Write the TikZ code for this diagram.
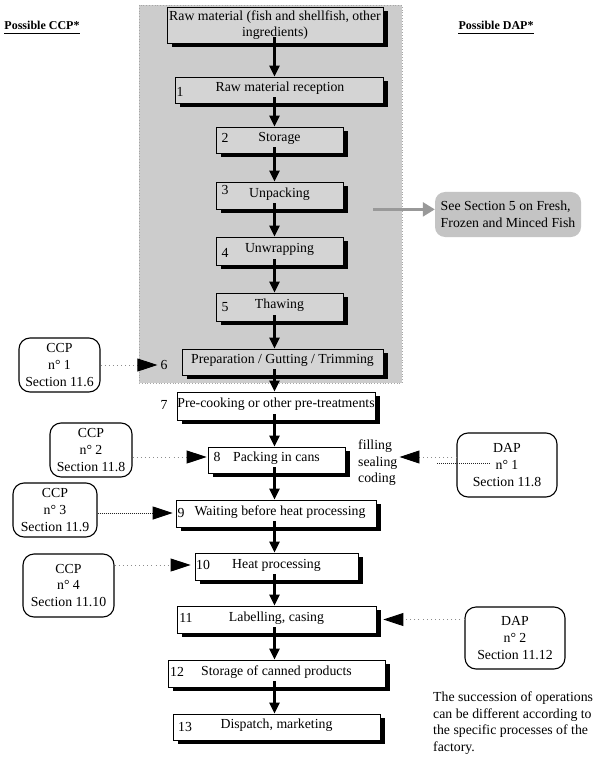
\documentclass[tikz,border=0pt]{standalone}
\usepackage{fontspec}
\setmainfont{Liberation Serif}
\usetikzlibrary{arrows.meta,shadows}
\begin{document}
\begin{tikzpicture}[x=1pt,y=-1pt,
  font=\fontsize{13.8pt}{16.6pt}\selectfont,
  stepbox/.style={draw=black, line width=0.8pt, inner sep=0pt,
    drop shadow={shadow xshift=5pt, shadow yshift=-4pt, opacity=1, fill=black}},
  graybox/.style={stepbox, fill=black!17},
  whitebox/.style={stepbox, fill=white},
  oneline/.style={text height=7.5pt, text depth=4.5pt},
  num/.style={inner sep=0pt},
  flow/.style={line width=2.4pt, -{Triangle[length=11pt,width=10pt]}},
  callout/.style={draw=black, rounded corners=11pt, line width=1.1pt, align=center, inner sep=0pt, fill=white},
  lightdot/.style={draw=black!45, line width=0.9pt, dash pattern=on 0.9pt off 3.2pt,
    -{Triangle[length=20pt,width=13pt,black]}},
  densedot/.style={draw=black!85, line width=1pt, dash pattern=on 1pt off 1pt,
    -{Triangle[length=20pt,width=13pt,black]}},
  grayarrow/.style={draw=black!40, line width=2.4pt, -{Triangle[length=12pt,width=14pt,black!40]}},
  header/.style={font=\fontsize{12pt}{14pt}\selectfont\bfseries, inner sep=0pt}
]
\useasboundingbox (0,0) rectangle (599,759);
\fill[white] (0,0) rectangle (599,759);

% shaded region
\path[fill=black!20, draw=black!35, dotted, line width=0.8pt] (139,5) rectangle (402,383);

% headers
\node[header] (hccp) at (42,25) {Possible CCP*};
\node[header] (hdap) at (496,25) {Possible DAP*};
\draw[line width=1.2pt] ([yshift=-4pt]hccp.base west) -- ([yshift=-4pt]hccp.base east);
\draw[line width=1.2pt] ([yshift=-4pt]hdap.base west) -- ([yshift=-4pt]hdap.base east);

% flow boxes
\node[graybox, minimum width=216pt, minimum height=36pt, align=center] (b0) at (275,25)
  {Raw material (fish and shellfish, other\\ingredients)};
\node[graybox, oneline, minimum width=208pt, minimum height=26pt] (b1) at (279,90) {\hspace*{2pt}Raw material reception};
\node[graybox, oneline, minimum width=127pt, minimum height=26pt] (b2) at (279.5,140) {Storage};
\node[graybox, oneline, minimum width=127pt, minimum height=27pt] (b3) at (279.5,195.5) {Unpacking};
\node[graybox, oneline, minimum width=127pt, minimum height=28pt] (b4) at (279.5,251) {Unwrapping};
\node[graybox, oneline, minimum width=127pt, minimum height=28pt] (b5) at (279.5,307) {Thawing};
\node[graybox, oneline, minimum width=201pt, minimum height=26pt] (b6) at (282.5,362) {Preparation / Gutting / Trimming};
\node[whitebox, oneline, minimum width=198pt, minimum height=28pt] (b7) at (276,406) {Pre-cooking or other pre-treatments};
\node[whitebox, oneline, minimum width=137pt, minimum height=26pt] (b8) at (276.5,460) {Packing in cans};
\node[whitebox, oneline, minimum width=200pt, minimum height=27pt] (b9) at (276,513.5) {\hspace*{8pt}Waiting before heat processing};
\node[whitebox, oneline, minimum width=163pt, minimum height=27pt] (b10) at (276.5,566.5) {Heat processing};
\node[whitebox, oneline, minimum width=199pt, minimum height=27pt] (b11) at (276.5,619.5) {Labelling, casing};
\node[whitebox, oneline, minimum width=217pt, minimum height=27pt] (b12) at (276.5,673.5) {Storage of canned products};
\node[whitebox, oneline, minimum width=207pt, minimum height=26pt] (b13) at (276.5,727) {Dispatch, marketing};

% step numbers
\node[num] (n1) at (180,92) {1};
\node[num] (n2) at (225,138) {2};
\node[num] (n3) at (225,190) {3};
\node[num] (n4) at (225,253) {4};
\node[num] (n5) at (225,307) {5};
\node[num] (n6) at (164,365) {6};
\node[num] (n7) at (164,405) {7};
\node[num] (n8) at (217,457) {8};
\node[num] (n9) at (181,513) {9};
\node[num] (n10) at (203,565) {10};
\node[num] (n11) at (186,618) {11};
\node[num] (n12) at (177,672) {12};
\node[num] (n13) at (185,727) {13};

% main flow arrows
\coordinate (ax) at (274.5,0);
\foreach \a/\b in {b0/b1,b1/b2,b2/b3,b3/b4,b4/b5,b5/b6,b6/b7,b7/b8,b8/b9,b9/b10,b10/b11,b11/b12,b12/b13}
  \draw[flow] ([yshift=6pt]\a.south -| ax) -- (\b.north -| ax);

% see section box
\node[fill=black!23, rounded corners=10pt, minimum width=146pt, minimum height=45pt, align=left, inner sep=0pt] (see) at (508,214.5)
  {See Section 5 on Fresh,\\Frozen and Minced Fish};
\draw[grayarrow] ([xshift=30pt]b3.south east) -- (see.west |- b3.south east);

% CCP callouts
\node[callout, minimum width=81pt, minimum height=54pt] (ccp1) at (59.5,365) {CCP\\n° 1\\Section 11.6};
\node[callout, minimum width=82pt, minimum height=54pt] (ccp2) at (91,450) {CCP\\n° 2\\Section 11.8};
\node[callout, minimum width=84pt, minimum height=54pt] (ccp3) at (55,510) {CCP\\n° 3\\Section 11.9};
\node[callout, minimum width=91pt, minimum height=63pt] (ccp4) at (68.5,585.5) {CCP\\n° 4\\Section 11.10};

\draw[lightdot, shorten >=3pt] (ccp1.east) -- (n6.west);
\draw[lightdot, shorten >=1pt] (ccp2.east |- n8) -- (b8.west |- n8);
\draw[densedot, shorten >=3pt] (ccp3.east |- n9) -- (b9.west |- n9);
\draw[lightdot, shorten >=4pt] (ccp4.east |- n10) -- (b10.west |- n10);

% DAP callouts
\node[callout, minimum width=100pt, minimum height=64pt] (dap1) at (507,465) {DAP\\n° 1\\Section 11.8};
\node[callout, minimum width=100pt, minimum height=62pt] (dap2) at (515,638) {DAP\\n° 2\\Section 11.12};

\node[inner sep=0pt, align=left, anchor=west] (fsc) at (358,463) {filling\\sealing\\coding};
\draw[lightdot, shorten >=2pt] ([yshift=8pt]dap1.west) -- ([yshift=8pt]dap1.west -| fsc.east);
\coordinate (s1) at (437,463);
\coordinate (s2) at (490,463);
\draw[draw=black!85, line width=1pt, dash pattern=on 1pt off 1pt] (s1) -- (s2);
\draw[lightdot] (dap2.west |- b11.east) -- ([xshift=7pt]b11.east);

% note
\node[inner sep=0pt, align=left, anchor=west] (note) at (433,723)
  {The succession of operations\\can be different according to\\the specific processes of the\\factory.};
\end{tikzpicture}
\end{document}
